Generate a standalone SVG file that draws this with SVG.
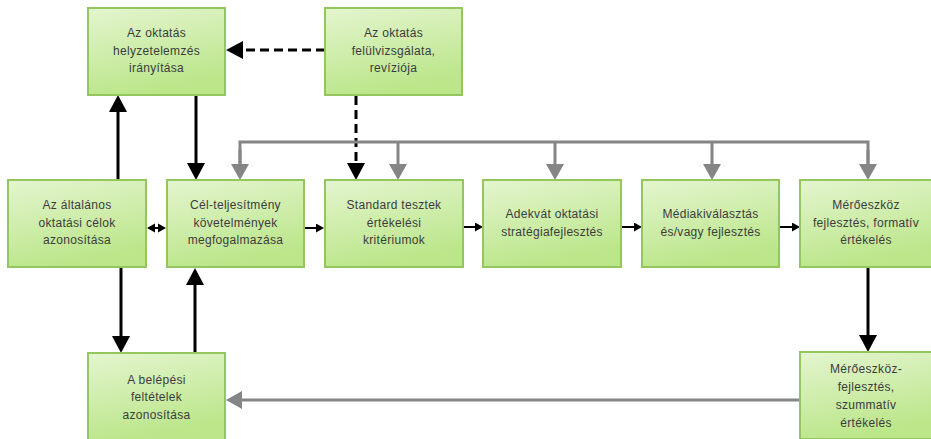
<svg xmlns="http://www.w3.org/2000/svg" width="931" height="439" viewBox="0 0 931 439">
  <style>
    .box { fill: url(#boxFill); stroke: #93c65c; stroke-width: 2; }
    .lbl { font-family: "Liberation Sans", Arial, sans-serif; font-size: 12px; fill: #3c3c3c; text-anchor: middle; letter-spacing: 0.3px; }
    .blk { stroke: #000; stroke-width: 3; fill: none; }
    .thin { stroke: #000; stroke-width: 2; fill: none; }
    .dash { stroke: #000; stroke-width: 3; fill: none; stroke-dasharray: 9 5; }
    .gry { stroke: #858585; stroke-width: 3; fill: none; }
  </style>
  <defs>
    <linearGradient id="boxFill" x1="0" y1="0" x2="0.3" y2="1">
      <stop offset="0" stop-color="#e4f5cf"/>
      <stop offset="1" stop-color="#bbe68a"/>
    </linearGradient>
    <marker id="bigBlack" markerUnits="userSpaceOnUse" markerWidth="17" markerHeight="18" viewBox="0 0 17 18" refX="0" refY="9" orient="auto">
      <path d="M0,0 L17,9 L0,18 z" fill="#000"/>
    </marker>
    <marker id="bigGray" markerUnits="userSpaceOnUse" markerWidth="16" markerHeight="18" viewBox="0 0 16 18" refX="0" refY="9" orient="auto">
      <path d="M0,0 L16,9 L0,18 z" fill="#858585"/>
    </marker>
    <marker id="small" markerUnits="userSpaceOnUse" markerWidth="8" markerHeight="9" viewBox="0 0 8 9" refX="0" refY="4.5" orient="auto">
      <path d="M0,0 L8,4.5 L0,9 z" fill="#000"/>
    </marker>
  </defs>

  <!-- connectors -->
  <g id="connectors">
    <!-- review feeds back to situation analysis -->
    <line class="dash" x1="325" y1="50" x2="243" y2="50" marker-end="url(#bigBlack)"/>
    <!-- review feeds standard tests -->
    <line class="dash" x1="356" y1="96" x2="356" y2="163" marker-end="url(#bigBlack)"/>
    <!-- goals up to situation analysis -->
    <line class="blk" x1="118" y1="180" x2="118" y2="112" marker-end="url(#bigBlack)"/>
    <!-- situation analysis down to requirements -->
    <line class="blk" x1="196" y1="96" x2="196" y2="163" marker-end="url(#bigBlack)"/>
    <!-- goals down to entry conditions -->
    <line class="blk" x1="121" y1="268" x2="121" y2="336" marker-end="url(#bigBlack)"/>
    <!-- entry conditions up to requirements -->
    <line class="blk" x1="195" y1="353" x2="195" y2="285" marker-end="url(#bigBlack)"/>
    <!-- formative down to summative -->
    <line class="blk" x1="868" y1="268" x2="868" y2="335" marker-end="url(#bigBlack)"/>

    <!-- two-way link between goals and requirements -->
    <line class="thin" x1="154" y1="228" x2="159" y2="228"/>
    <path d="M147,228 L155,223.5 L155,232.5 z M166,228 L158,223.5 L158,232.5 z" fill="#000"/>
    <!-- row sequence -->
    <line class="thin" x1="305" y1="228" x2="316" y2="228" marker-end="url(#small)"/>
    <line class="thin" x1="464" y1="227" x2="475" y2="227" marker-end="url(#small)"/>
    <line class="thin" x1="622" y1="227" x2="634" y2="227" marker-end="url(#small)"/>
    <line class="thin" x1="780" y1="227" x2="792" y2="227" marker-end="url(#small)"/>

    <!-- gray feedback bus -->
    <polyline class="gry" points="240,164 240,142 868,142 868,164"/>
    <line class="gry" x1="240" y1="150" x2="240" y2="164" marker-end="url(#bigGray)"/>
    <line class="gry" x1="398" y1="142" x2="398" y2="164" marker-end="url(#bigGray)"/>
    <line class="gry" x1="555" y1="142" x2="555" y2="164" marker-end="url(#bigGray)"/>
    <line class="gry" x1="712" y1="142" x2="712" y2="164" marker-end="url(#bigGray)"/>
    <line class="gry" x1="868" y1="150" x2="868" y2="164" marker-end="url(#bigGray)"/>
    <!-- summative back to entry conditions -->
    <line class="gry" x1="799" y1="400" x2="242" y2="400" marker-end="url(#bigGray)"/>
  </g>

  <!-- nodes -->
  <g id="n-helyzet">
    <rect class="box" x="88" y="8" width="137" height="87"/>
    <text class="lbl" x="156.5" y="37">Az oktatás</text>
    <text class="lbl" x="156.5" y="55">helyzetelemzés</text>
    <text class="lbl" x="156.5" y="72">irányítása</text>
  </g>
  <g id="n-revizio">
    <rect class="box" x="325" y="8" width="137" height="87"/>
    <text class="lbl" x="393.5" y="37">Az oktatás</text>
    <text class="lbl" x="393.5" y="55">felülvizsgálata,</text>
    <text class="lbl" x="393.5" y="72">revíziója</text>
  </g>
  <g id="n-celok">
    <rect class="box" x="8" y="180" width="138" height="87"/>
    <text class="lbl" x="77" y="209">Az általános</text>
    <text class="lbl" x="77" y="227">oktatási célok</text>
    <text class="lbl" x="77" y="244">azonosítása</text>
  </g>
  <g id="n-kovetelmeny">
    <rect class="box" x="167" y="180" width="137" height="87"/>
    <text class="lbl" x="235.5" y="209">Cél-teljesítmény</text>
    <text class="lbl" x="235.5" y="227">követelmények</text>
    <text class="lbl" x="235.5" y="244">megfogalmazása</text>
  </g>
  <g id="n-standard">
    <rect class="box" x="325" y="180" width="138" height="87"/>
    <text class="lbl" x="394" y="209">Standard tesztek</text>
    <text class="lbl" x="394" y="227">értékelési</text>
    <text class="lbl" x="394" y="244">kritériumok</text>
  </g>
  <g id="n-strategia">
    <rect class="box" x="483" y="180" width="138" height="87"/>
    <text class="lbl" x="552" y="218">Adekvát oktatási</text>
    <text class="lbl" x="552" y="236">stratégiafejlesztés</text>
  </g>
  <g id="n-media">
    <rect class="box" x="642" y="180" width="137" height="87"/>
    <text class="lbl" x="710.5" y="218">Médiakiválasztás</text>
    <text class="lbl" x="710.5" y="236">és/vagy fejlesztés</text>
  </g>
  <g id="n-formativ">
    <rect class="box" x="800" y="180" width="138" height="87"/>
    <text class="lbl" x="866" y="209">Mérőeszköz</text>
    <text class="lbl" x="866" y="227">fejlesztés, formatív</text>
    <text class="lbl" x="866" y="244">értékelés</text>
  </g>
  <g id="n-belepes">
    <rect class="box" x="88" y="353" width="137" height="87"/>
    <text class="lbl" x="156.5" y="384">A belépési</text>
    <text class="lbl" x="156.5" y="401">feltételek</text>
    <text class="lbl" x="156.5" y="419">azonosítása</text>
  </g>
  <g id="n-szummativ">
    <rect class="box" x="800" y="352" width="138" height="87"/>
    <text class="lbl" x="866" y="373">Mérőeszköz-</text>
    <text class="lbl" x="866" y="391">fejlesztés,</text>
    <text class="lbl" x="866" y="409">szummatív</text>
    <text class="lbl" x="866" y="427">értékelés</text>
  </g>
</svg>
